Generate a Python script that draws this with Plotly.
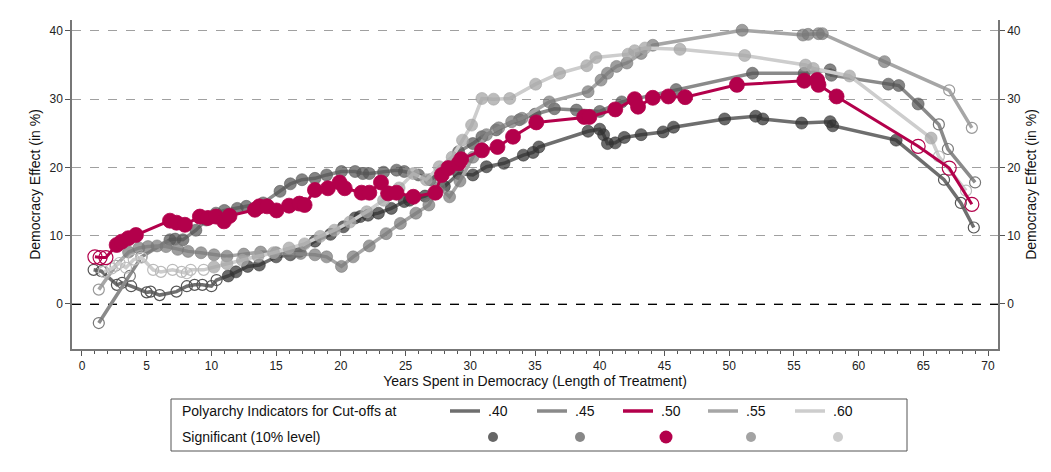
import plotly.graph_objects as go

# ---------------- data ----------------
# .40 cut-off
x40 = [0.9, 1.5, 2.7, 3.1, 3.8, 5.0, 5.3, 6.0, 7.3, 8.1, 8.7, 9.3, 10.0, 10.4, 11.3, 11.9, 12.8, 13.7, 15.0, 16.1,
       16.8, 18.0, 19.2, 20.2, 21.1, 21.5, 22.1, 22.9, 23.9, 24.9, 25.3, 26.5, 28.0, 29.1, 30.2, 31.25, 32.6, 34.1,
       34.85, 35.3, 39.1, 40.0, 40.3, 40.6, 41.2, 41.9, 43.2, 44.9, 45.7, 49.65, 52.05, 52.6, 55.6, 57.8, 58.0, 62.9,
       66.6, 67.9, 68.9]
y40 = [5.0, 4.8, 2.8, 3.1, 2.6, 1.7, 1.8, 1.3, 1.8, 2.6, 2.8, 2.8, 2.6, 3.5, 4.1, 4.7, 5.5, 5.7, 6.9, 7.2,
       7.7, 9.2, 10.2, 11.3, 12.6, 12.8, 13.0, 13.3, 14.0, 15.0, 15.2, 15.8, 17.2, 19.1, 18.9, 20.1, 20.6, 21.8,
       22.2, 23.0, 25.3, 25.6, 24.8, 23.5, 23.6, 24.4, 24.8, 25.2, 25.9, 27.1, 27.5, 27.1, 26.5, 26.7, 26.1, 24.0,
       18.2, 14.8, 11.2]
s40 = [0] * 14 + [1] * 42 + [0] * 3

# .45 cut-off
x45 = [1.3, 3.7, 4.6, 6.8, 7.2, 7.8, 8.8, 9.6, 10.35, 11.0, 12.0, 12.7, 14.0, 15.3, 16.1, 17.0, 18.0, 18.9, 20.05,
       21.1, 21.7, 22.2, 23.3, 24.3, 24.9, 26.0, 26.9, 28.0, 29.1, 30.2, 30.9, 32.0, 33.8, 35.0, 36.5, 38.2, 40.0,
       41.7, 45.9, 51.8, 55.8, 57.8, 57.9, 62.3, 63.1, 64.6, 66.2, 66.9, 69.0]
y45 = [-2.8, 4.1, 6.9, 9.4, 9.5, 9.4, 10.8, 12.3, 13.3, 13.7, 14.0, 14.3, 14.8, 16.5, 17.6, 18.2, 18.4, 18.9, 19.4,
       19.4, 19.1, 19.1, 19.3, 19.6, 19.4, 18.9, 18.2, 19.5, 22.3, 23.5, 24.5, 25.5, 27.0, 27.8, 28.6, 28.4, 28.2,
       29.6, 31.4, 33.8, 33.8, 34.3, 33.5, 32.2, 32.0, 29.3, 26.3, 22.7, 17.8]
s45 = [0] * 3 + [1] * 43 + [0] * 3

# .50 cut-off
x50 = [1.0, 1.4, 1.85, 2.68, 3.07, 3.58, 4.17, 6.8, 7.31, 7.95, 9.11, 9.73, 10.35, 10.97, 11.4, 13.36, 13.7, 14.3,
       15.03, 16.0, 16.8, 17.2, 18.0, 19.0, 19.9, 20.3, 21.6, 22.2, 23.1, 23.65, 24.3, 25.6, 27.3, 27.8, 28.3, 29.1,
       29.3, 30.9, 32.1, 33.3, 35.1, 38.8, 39.2, 41.2, 42.7, 42.96, 44.1, 45.3, 46.6, 50.6, 55.8, 56.8, 56.9, 58.3,
       64.6, 67.0, 68.75]
y50 = [6.9, 6.8, 6.8, 8.64, 9.13, 9.63, 10.1, 12.2, 11.9, 11.6, 12.8, 12.6, 12.8, 12.1, 12.9, 13.8, 14.3, 14.3,
       13.7, 14.4, 14.7, 14.5, 16.7, 16.95, 17.8, 16.95, 16.3, 16.3, 17.8, 16.2, 16.3, 15.7, 16.3, 18.9, 19.9, 20.6,
       21.2, 22.5, 23.0, 24.5, 26.6, 27.4, 27.4, 28.5, 30.0, 28.9, 30.2, 30.4, 30.3, 32.1, 32.7, 32.8, 32.1, 30.4,
       23.1, 19.9, 14.6]
s50 = [0] * 3 + [1] * 51 + [0] * 3

# .55 cut-off
x55 = [1.3, 2.6, 3.6, 4.4, 5.1, 5.8, 6.5, 7.4, 8.2, 9.2, 10.2, 11.2, 12.5, 13.8, 15.0, 16.0, 16.9, 18.0, 18.9,
       20.05, 20.95, 22.2, 23.5, 24.6, 25.8, 26.8, 27.6, 28.4, 29.2, 30.2, 31.25, 32.2, 33.2, 34.0, 36.1, 39.1,
       40.1, 40.6, 41.3, 42.1, 43.2, 44.1, 51.0, 55.7, 56.1, 56.9, 57.2, 62.0, 67.0, 68.75]
y55 = [2.1, 5.6, 7.6, 8.2, 8.4, 8.5, 8.4, 8.0, 7.7, 7.5, 7.2, 7.0, 7.3, 7.6, 7.5, 7.4, 7.4, 7.2, 6.9,
       5.5, 6.9, 8.5, 10.3, 11.8, 13.3, 14.5, 17.1, 15.7, 18.0, 21.5, 24.8, 25.8, 26.7, 27.2, 29.6, 31.1,
       32.8, 33.8, 34.8, 35.3, 36.7, 37.9, 40.1, 39.4, 39.5, 39.6, 39.6, 35.5, 31.3, 25.8]
s55 = [0] * 2 + [1] * 46 + [0] * 2

# .60 cut-off
x60 = [1.7, 2.3, 2.9, 3.4, 4.0, 4.6, 5.5, 6.1, 7.0, 7.7, 8.1, 8.4, 9.4, 10.2, 11.2, 12.4, 13.6, 14.8, 16.0, 17.2,
       18.4, 19.5, 20.7, 22.0, 23.3, 24.5, 25.6, 26.6, 27.6, 28.6, 29.4, 30.1, 30.9, 31.8, 33.05, 35.05, 36.9, 39.0,
       39.7, 42.2, 42.7, 43.5, 46.2, 51.2, 55.9, 56.5, 59.3, 65.6, 66.2, 68.3]
y60 = [4.7, 5.2, 6.0, 5.3, 6.5, 6.8, 5.0, 4.7, 5.0, 4.7, 4.5, 5.0, 5.0, 5.4, 5.9, 6.4, 7.0, 7.5, 8.2, 8.8,
       9.9, 10.8, 12.0, 13.5, 15.2, 17.0, 19.1, 18.2, 20.1, 21.5, 24.0, 26.2, 30.1, 30.0, 30.1, 32.2, 33.8, 34.9,
       36.1, 36.6, 37.1, 37.5, 37.3, 36.4, 35.0, 34.5, 33.4, 24.3, 21.6, 16.6]
s60 = [0] * 13 + [1] * 35 + [0] * 2

cutoff_labels = [".40", ".45", ".50", ".55", ".60"]
x_ticks = list(range(0, 71, 5))
y_ticks = [0, 10, 20, 30, 40]

# ---------------- styles ----------------
FONT = "Liberation Sans, Arial, Helvetica, sans-serif"
CRIMSON = "#b3004b"
styles = {
    ".40": dict(line="#6e6e6e", mk="rgba(50,50,50,0.72)", open="#555555", size=12, lw=3.5),
    ".45": dict(line="#8a8a8a", mk="rgba(85,85,85,0.72)", open="#777777", size=12, lw=3.5),
    ".50": dict(line=CRIMSON, mk=CRIMSON, open=CRIMSON, size=15, lw=3),
    ".55": dict(line="#a6a6a6", mk="rgba(120,120,120,0.72)", open="#999999", size=12, lw=3.5),
    ".60": dict(line="#cdcdcd", mk="rgba(165,165,165,0.75)", open="#bbbbbb", size=12, lw=3.5),
}
series = {
    ".40": (x40, y40, s40),
    ".45": (x45, y45, s45),
    ".55": (x55, y55, s55),
    ".60": (x60, y60, s60),
    ".50": (x50, y50, s50),
}

fig = go.Figure()
for lab, (xs, ys, sig) in series.items():
    st = styles[lab]
    fig.add_trace(go.Scatter(x=xs, y=ys, mode="lines", line=dict(color=st["line"], width=st["lw"]),
                             showlegend=False, hoverinfo="skip"))
    xf = [x for x, s in zip(xs, sig) if s]
    yf = [y for y, s in zip(ys, sig) if s]
    xo = [x for x, s in zip(xs, sig) if not s]
    yo = [y for y, s in zip(ys, sig) if not s]
    fig.add_trace(go.Scatter(x=xo, y=yo, mode="markers",
                             marker=dict(symbol="circle-open", size=st["size"] - 1, color=st["open"],
                                         line=dict(width=1.2, color=st["open"])),
                             showlegend=False))
    fig.add_trace(go.Scatter(x=xf, y=yf, mode="markers",
                             marker=dict(symbol="circle", size=st["size"], color=st["mk"],
                                         line=dict(width=0.8, color=st["mk"])),
                             showlegend=False))

# invisible trace to activate right axis
fig.add_trace(go.Scatter(x=[x_ticks[0]], y=[y_ticks[0]], yaxis="y2", mode="markers",
                         marker=dict(opacity=0), showlegend=False, hoverinfo="skip"))

# page body has an 8px margin; work in window pixel coordinates
OFF = 8
WIN_W, WIN_H = 1051, 472
W, H = WIN_W - 2 * OFF, WIN_H - 2 * OFF
PL, PR, PT, PB = 72, 998, 20, 349  # plot area in window pixels
L, R, T, B = PL - OFF, (OFF + W) - PR, PT - OFF, (OFF + H) - PB
PW, PH = PR - PL, PB - PT


def px(xp):
    return (xp - PL) / PW


def py(yp):
    return (PB - yp) / PH


shapes = [dict(type="line", xref="paper", yref="y", x0=0, x1=1, y0=0, y1=0,
               line=dict(color="black", width=2, dash="dash"), layer="below")]
annotations = []

# legend box
shapes.append(dict(type="rect", xref="paper", yref="paper", x0=px(171), x1=px(907), y0=py(399), y1=py(451),
                   line=dict(color="#555555", width=1), fillcolor="white"))
annotations.append(dict(xref="paper", yref="paper", x=px(180), y=py(411), text="Polyarchy Indicators for Cut-offs at",
                        showarrow=False, xanchor="left", yanchor="middle", font=dict(family=FONT, size=14, color="#111")))
annotations.append(dict(xref="paper", yref="paper", x=px(180), y=py(437), text="Significant (10% level)",
                        showarrow=False, xanchor="left", yanchor="middle", font=dict(family=FONT, size=14, color="#111")))
line_starts = [450, 537, 623, 708, 795]
legend_dot = {".40": "#666666", ".45": "#888888", ".50": CRIMSON, ".55": "#a3a3a3", ".60": "#cccccc"}
for lab, x0 in zip(cutoff_labels, line_starts):
    st = styles[lab]
    shapes.append(dict(type="line", xref="paper", yref="paper", x0=px(x0), x1=px(x0 + 30), y0=py(411), y1=py(411),
                       line=dict(color=st["line"], width=3.5)))
    annotations.append(dict(xref="paper", yref="paper", x=px(x0 + 36), y=py(411), text=lab, showarrow=False,
                            xanchor="left", yanchor="middle", font=dict(family=FONT, size=14, color="#111")))
    cx = x0 + 43
    r = 6.5 if lab == ".50" else 5
    shapes.append(dict(type="circle", xref="paper", yref="paper", x0=px(cx - r), x1=px(cx + r),
                       y0=py(437 + r), y1=py(437 - r), fillcolor=legend_dot[lab], line=dict(width=0)))

fig.update_layout(
    width=W, height=H,
    margin=dict(l=L, r=R, t=T, b=B, autoexpand=False),
    paper_bgcolor="white", plot_bgcolor="white",
    font=dict(family=FONT, size=12, color="#222"),
    shapes=shapes, annotations=annotations,
    xaxis=dict(range=[-0.77, 70.77], tickvals=x_ticks, ticks="outside", ticklen=5, tickcolor="#555",
               showline=True, linecolor="#777", linewidth=1.5, showgrid=False, zeroline=False,
               minor=dict(dtick=1, ticks="outside", ticklen=3, tickcolor="#555", showgrid=False),
               tickfont=dict(size=12, color="#222"),
               title=dict(text="Years Spent in Democracy (Length of Treatment)", font=dict(size=14, color="#111"),
                          standoff=1)),
    yaxis=dict(range=[-6.6, 41.6], tickvals=y_ticks, ticks="outside", ticklen=5, tickcolor="#555",
               showline=True, linecolor="#777", linewidth=1.5, showgrid=True, gridcolor="#a0a0a0",
               griddash="dash", gridwidth=1, zeroline=False, tickfont=dict(size=12, color="#222"),
               title=dict(text="Democracy Effect (in %)", font=dict(size=14, color="#111"), standoff=6)),
    yaxis2=dict(range=[-6.6, 41.6], tickvals=y_ticks, ticks="outside", ticklen=5, tickcolor="#555",
                overlaying="y", side="right", showline=True, linecolor="#777", linewidth=1.5, showgrid=False,
                zeroline=False, tickfont=dict(size=12, color="#222"),
                title=dict(text="Democracy Effect (in %)", font=dict(size=14, color="#111"), standoff=6)),
)

fig.write_html("out.html")
